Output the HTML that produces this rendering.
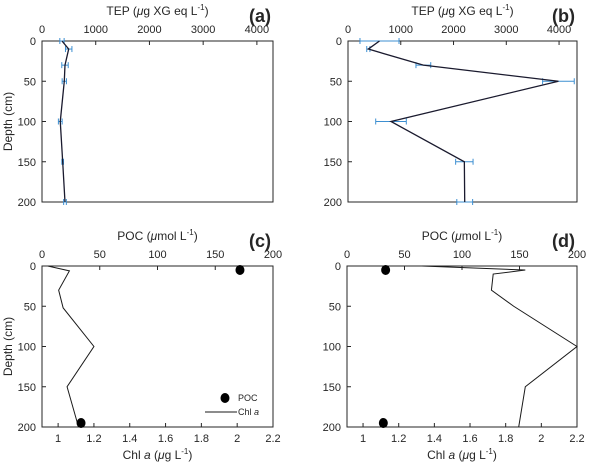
<!DOCTYPE html>
<html><head><meta charset="utf-8"><style>
body{margin:0;background:#fff;}
svg{display:block;font-family:"Liberation Sans",sans-serif;}
text{fill:#262626;}
</style></head><body>
<svg id="fig" width="600" height="470"></svg>
<script>
const depthTicks=[0,50,100,150,200];
const tepTicks=[0,1000,2000,3000,4000];
const pocTicks=[0,50,100,150,200];
const chlTicks=[1,1.2,1.4,1.6,1.8,2,2.2];
const tepADepth=[0,10,30,50,100,150,200];
const tepAVal=[372,497,428,415,340,385,428];
const tepAErr=[40,60,60,40,35,15,25];
const tepBDepth=[0,10,30,50,100,150,200];
const tepBVal=[597,385,1428,3988,815,2205,2212];
const tepBErr=[370,30,140,300,290,165,150];
const chlCDepth=[0,6,30,52,100,150,200];
const chlCVal=[0.942,1.063,1.003,1.028,1.2,1.05,1.114];
const pocCDepth=[5,195];
const pocCVal=[171.4,33.8];
const chlDDepth=[0,5,10,30,50,100,150,200];
const chlDVal=[1.332,1.91,1.73,1.72,1.845,2.2,1.91,1.873];
const pocDDepth=[5,195];
const pocDVal=[33.6,31.6];

const NS="http://www.w3.org/2000/svg";
const svg=document.getElementById('fig');
function el(tag,attrs,parent,txt){const e=document.createElementNS(NS,tag);for(const k in attrs)e.setAttribute(k,attrs[k]);if(txt!==undefined)e.textContent=txt;(parent||svg).appendChild(e);return e;}

function panel(p){
  const g=el('g',{});
  
  
  const L=p.left,R=p.right,T=p.top,B=p.bottom;
  const y=d=>T+(d/200)*(B-T);
  const xTop=v=>L+(v-p.topMin)/(p.topMax-p.topMin)*(R-L);
  const frame=el('rect',{x:L,y:T,width:R-L,height:B-T,fill:'none',stroke:'#262626','stroke-width':1},g);
  
  
  // left ticks
  depthTicks.forEach(d=>{
    el('line',{x1:L,x2:L+4,y1:y(d),y2:y(d),stroke:'#262626'},g);
    const t=el('text',{x:L-6,y:y(d)+4,'font-size':11,'text-anchor':'end'},g,String(d));
    
    
  });
  p.topTicks.forEach(v=>{
    el('line',{x1:xTop(v),x2:xTop(v),y1:T,y2:T+4,stroke:'#262626'},g);
    const t=el('text',{x:xTop(v),y:T-8,'font-size':11,'text-anchor':'middle'},g,String(v));
    
    
  });
  const cx=(L+R)/2;
  const tt=el('text',{x:cx,y:T-26,'font-size':12,'text-anchor':'middle'},g);
  
  
  tt.innerHTML=p.topTitle;
  const lab=el('text',{x:R-2,y:T-19,'font-size':18,'font-weight':'bold','text-anchor':'end'},g,'('+p.id+')');
  
  
  if(p.ylabel){
    const yl=el('text',{x:0,y:0,'font-size':12,'text-anchor':'middle',transform:`translate(${L-30},${(T+B)/2}) rotate(-90)`},g,'Depth (cm)');
    
    
  }
  return {g,y,xTop,L,R,T,B};
}

function tepPanel(p,depth,val,err){
  const P=panel(p);
  depth.forEach((d,i)=>{
    const x1=Math.max(P.L,P.xTop(val[i]-err[i])),x2=Math.min(P.R,P.xTop(val[i]+err[i]));
    const yy=P.y(d);
    const eb=el('g',{stroke:'#3d8fd1','stroke-width':1},P.g);
    
    
    el('line',{x1:x1,x2:x2,y1:yy,y2:yy},eb);
    el('line',{x1:x1,x2:x1,y1:yy-3,y2:yy+3},eb);
    el('line',{x1:x2,x2:x2,y1:yy-3,y2:yy+3},eb);
  });
  const pl=el('polyline',{points:depth.map((d,i)=>P.xTop(val[i])+','+P.y(d)).join(' '),fill:'none',stroke:'#1a1a2e','stroke-width':1.3},P.g);
  
  
}

function chlPanel(p,cd,cv,pd,pv,legend){
  const P=panel(p);
  const chlMin=0.91,chlMax=2.2;
  const xc=v=>P.L+(v-chlMin)/(chlMax-chlMin)*(P.R-P.L);
  chlTicks.forEach(v=>{
    el('line',{x1:xc(v),x2:xc(v),y1:P.B,y2:P.B-4,stroke:'#262626'},P.g);
    const t=el('text',{x:xc(v),y:P.B+15,'font-size':11,'text-anchor':'middle'},P.g,String(v));
    
    
  });
  const bt=el('text',{x:(P.L+P.R)/2,y:P.B+32,'font-size':12,'text-anchor':'middle'},P.g);
  
  
  bt.innerHTML='Chl <tspan font-style="italic">a</tspan> (<tspan font-style="italic">μ</tspan>g L<tspan font-size="8" dy="-5">-1</tspan><tspan dy="5">)</tspan>';
  const pl=el('polyline',{points:cd.map((d,i)=>xc(cv[i])+','+P.y(d)).join(' '),fill:'none',stroke:'#1a1a1a','stroke-width':1},P.g);
  
  
  pd.forEach((d,i)=>{
    const c=el('ellipse',{cx:P.xTop(pv[i]),cy:P.y(d),rx:4.5,ry:5,fill:'#000'},P.g);
    
    
  });
  if(legend){
    const lg=el('g',{},P.g);
    
    
    el('ellipse',{cx:225,cy:398,rx:4.5,ry:5,fill:'#000'},lg);
    el('text',{x:238,y:401,'font-size':9},lg,'POC');
    el('line',{x1:205,x2:237,y1:412,y2:412,stroke:'#1a1a1a'},lg);
    const t=el('text',{x:238,y:415,'font-size':9},lg);
    t.innerHTML='Chl <tspan font-style="italic">a</tspan>';
  }
}
const tepTitle='TEP (<tspan font-style="italic">μ</tspan>g XG eq L<tspan font-size="8" dy="-5">-1</tspan><tspan dy="5">)</tspan>';
const pocTitle='POC (<tspan font-style="italic">μ</tspan>mol L<tspan font-size="8" dy="-5">-1</tspan><tspan dy="5">)</tspan>';
tepPanel({id:'a',left:42,right:273,top:41,bottom:202,topMin:0,topMax:4300,topTicks:tepTicks,topTitle:tepTitle,ylabel:true},tepADepth,tepAVal,tepAErr);
tepPanel({id:'b',left:348,right:577,top:41,bottom:202,topMin:0,topMax:4340,topTicks:tepTicks,topTitle:tepTitle,ylabel:false},tepBDepth,tepBVal,tepBErr);
chlPanel({id:'c',left:42,right:273,top:266,bottom:427,topMin:0,topMax:200,topTicks:pocTicks,topTitle:pocTitle,ylabel:true},chlCDepth,chlCVal,pocCDepth,pocCVal,true);
chlPanel({id:'d',left:347,right:577,top:266,bottom:427,topMin:0,topMax:200,topTicks:pocTicks,topTitle:pocTitle,ylabel:false},chlDDepth,chlDVal,pocDDepth,pocDVal,false);
</script>
</body></html>
